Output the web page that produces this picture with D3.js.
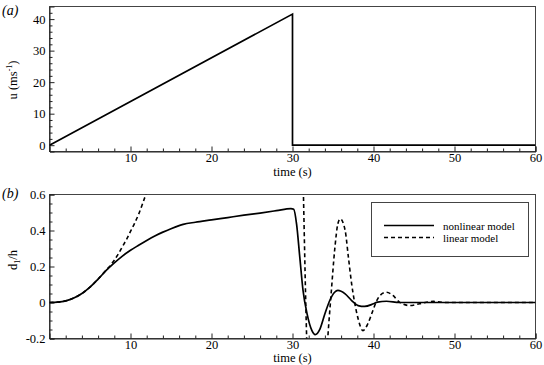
<!DOCTYPE html>
<html>
<head>
<meta charset="utf-8">
<script src="https://cdn.jsdelivr.net/npm/d3@7"></script>
<style>
  body { margin: 0; background: #fff; }
  svg text { font-family: "Liberation Serif", "Times New Roman", Times, "Nimbus Roman", serif; fill: #000; }
</style>
</head>
<body>
<script>
// panel (a): wind speed forcing
const uTime = [0, 30, 30, 60];
const uVals = [0, 41.6, 0, 0];

// panel (b): nonlinear model
const nlTime = [0, 1, 2, 3, 4, 5, 6, 7, 8, 9, 10, 11, 12, 13, 14, 15, 16, 16.5, 18, 20, 22, 24, 26, 28, 29.8, 30.15,
  30.5, 30.9, 31.3, 31.8, 32.4, 32.8, 33.4, 34.0, 34.6, 35.2, 35.6, 36.5, 37.3, 38.1, 38.9, 40.0, 40.5, 41.6, 43.2, 45, 50, 60];
const nlVals = [0, 0.002, 0.009, 0.025, 0.05, 0.085, 0.13, 0.178, 0.22, 0.258, 0.29, 0.318, 0.345, 0.37, 0.391, 0.41, 0.427, 0.434, 0.446, 0.459, 0.472, 0.485, 0.497, 0.51, 0.522, 0.518,
  0.437, 0.252, 0.067, -0.063, -0.156, -0.178, -0.146, -0.063, 0.011, 0.057, 0.067, 0.048, 0.011, -0.017, -0.022, -0.007, 0.002, 0.007, 0, 0, 0, 0];

// panel (b): linear model
const linTime = [0, 1, 2, 3, 4, 5, 6, 7, 7.5, 8, 8.5, 9, 9.5, 10, 10.5, 11, 11.5, 12, 12.5, 13, 14, 16, 20, 25, 30, 30.5, 30.9, 31.35, 31.75,
  32.2, 32.8, 33.5, 34.0, 34.35, 34.8, 35.2, 35.6, 35.9, 36.5, 36.9, 37.3, 37.7, 38.1, 38.7, 39.3, 39.8, 40.4, 40.8, 41.6, 42.4, 43.2, 44.5, 45.7, 47.4, 49, 60];
const linVals = [0, 0.002, 0.009, 0.025, 0.05, 0.085, 0.13, 0.18, 0.205, 0.235, 0.27, 0.31, 0.35, 0.395, 0.44, 0.49, 0.55, 0.615, 0.69, 0.77, 0.95, 1.35, 2.2, 3.2, 4.0, 3.0, 1.6, 0.6, -0.2,
  -0.7, -1.0, -0.8, -0.45, -0.2, 0.067, 0.289, 0.437, 0.465, 0.4, 0.252, 0.104, -0.007, -0.09, -0.156, -0.118, -0.06, 0.01, 0.039, 0.057, 0.039, 0.002, -0.017, -0.007, 0.006, 0, 0];

const xMajor = [10, 20, 30, 40, 50, 60];
const uTicks = [0, 10, 20, 30, 40];
const dTicks = [-0.2, 0, 0.2, 0.4, 0.6];
const legendLabels = ["nonlinear model", "linear model"];

const serif = '"Liberation Serif", "Times New Roman", Times, "Nimbus Roman", serif';
const W = 544, H = 365;
const svg = d3.select("body").append("svg").attr("width", W).attr("height", H)
  .style("font-family", serif);

const x = d3.scaleLinear().domain([0, 60]).range([49.5, 535.5]);
const xMinor = d3.range(2, 60, 2).filter(v => v % 10 !== 0);

function drawPanel(id, top, bottom, yDomain, yMajor, yMinor, yFmt) {
  const y = d3.scaleLinear().domain(yDomain).range([bottom, top]);
  const g = svg.append("g");

  svg.append("clipPath").attr("id", "clip" + id)
    .append("rect").attr("x", x.range()[0]).attr("y", top)
    .attr("width", x.range()[1] - x.range()[0]).attr("height", bottom - top);

  // frame
  g.append("rect")
    .attr("x", x.range()[0]).attr("y", top)
    .attr("width", x.range()[1] - x.range()[0]).attr("height", bottom - top)
    .attr("fill", "none").attr("stroke", "#444").attr("stroke-width", 1);

  // bottom axis, ticks pointing inward
  g.append("g").attr("transform", `translate(0,${bottom})`)
    .call(d3.axisBottom(x).tickValues(xMajor).tickSize(-5).tickPadding(1.5).tickFormat(d3.format("d")));
  g.append("g").attr("transform", `translate(0,${bottom})`)
    .call(d3.axisBottom(x).tickValues(xMinor).tickSize(-3).tickFormat(""))
    .select(".domain").remove();

  // left axis
  g.append("g").attr("transform", `translate(${x.range()[0]},0)`)
    .call(d3.axisLeft(y).tickValues(yMajor).tickSize(-5).tickPadding(4).tickFormat(yFmt));
  g.append("g").attr("transform", `translate(${x.range()[0]},0)`)
    .call(d3.axisLeft(y).tickValues(yMinor).tickSize(-3).tickFormat(""))
    .select(".domain").remove();

  g.selectAll(".tick line").attr("stroke", "#222");
  g.selectAll(".domain").attr("stroke", "#222");
  g.selectAll("g").attr("font-family", null).attr("font-size", null);
  g.selectAll(".tick text")
    .style("font-family", serif)
    .style("font-size", "12.5px").attr("fill", "#000");

  const plot = g.append("g").attr("clip-path", `url(#clip${id})`);
  return { y, plot };
}

// ---------- panel (a)
const pa = drawPanel("a", 6.5, 151.5, [-2, 44], uTicks,
  d3.range(2, 44, 2).filter(v => v % 10 !== 0), d3.format("d"));

pa.plot.append("path")
  .datum(d3.zip(uTime, uVals))
  .attr("fill", "none").attr("stroke", "#000").attr("stroke-width", 1.7)
  .attr("d", d3.line().x(d => x(d[0])).y(d => pa.y(d[1])));

svg.append("text").attr("x", 292.5).attr("y", 176).attr("text-anchor", "middle")
  .style("font-size", "12.5px").text("time (s)");

const la = svg.append("text").attr("transform", "translate(17,80) rotate(-90)")
  .attr("text-anchor", "middle").style("font-size", "12.5px");
la.append("tspan").text("u  (ms");
la.append("tspan").attr("dy", -5).style("font-size", "8px").text("-1");
la.append("tspan").attr("dy", 5).text(")");

svg.append("text").attr("x", 2).attr("y", 15).style("font-size", "14px")
  .style("font-style", "italic").text("(a)");

// ---------- panel (b)
const dMinor = d3.range(-3, 12).map(i => i * 0.05).filter(v => Math.round(v * 100) % 20 !== 0);
const pb = drawPanel("b", 194.5, 338.5, [-0.2, 0.6], dTicks, dMinor,
  d => (Math.abs(d) < 1e-9 ? "0" : d.toFixed(1)));

const lineB = d3.line().x(d => x(d[0])).y(d => pb.y(d[1])).curve(d3.curveMonotoneX);

pb.plot.append("path")
  .datum(d3.zip(linTime, linVals))
  .attr("fill", "none").attr("stroke", "#000").attr("stroke-width", 1.6)
  .attr("stroke-dasharray", "4,3")
  .attr("d", lineB);

pb.plot.append("path")
  .datum(d3.zip(nlTime, nlVals))
  .attr("fill", "none").attr("stroke", "#000").attr("stroke-width", 1.7)
  .attr("d", lineB);

svg.append("text").attr("x", 292.5).attr("y", 362).attr("text-anchor", "middle")
  .style("font-size", "12.5px").text("time (s)");

const lb = svg.append("text").attr("transform", "translate(17,260) rotate(-90)")
  .attr("text-anchor", "middle").style("font-size", "12.5px");
lb.append("tspan").text("d");
lb.append("tspan").attr("dy", 3).style("font-size", "8px").text("1");
lb.append("tspan").attr("dy", -3).text("/h");

svg.append("text").attr("x", 2).attr("y", 198).style("font-size", "14px")
  .style("font-style", "italic").text("(b)");

// legend
const leg = svg.append("g");
leg.append("rect").attr("x", 371.5).attr("y", 202.5).attr("width", 157).attr("height", 54)
  .attr("fill", "#fff").attr("stroke", "#444");
legendLabels.forEach((lab, i) => {
  const yy = 225.5 + i * 12;
  leg.append("line").attr("x1", 384).attr("x2", 434).attr("y1", yy).attr("y2", yy)
    .attr("stroke", "#000").attr("stroke-width", 1.6)
    .attr("stroke-dasharray", i === 1 ? "4,3" : null);
  leg.append("text").attr("x", 443).attr("y", yy + 4).style("font-size", "11px").text(lab);
});
</script>
</body>
</html>
